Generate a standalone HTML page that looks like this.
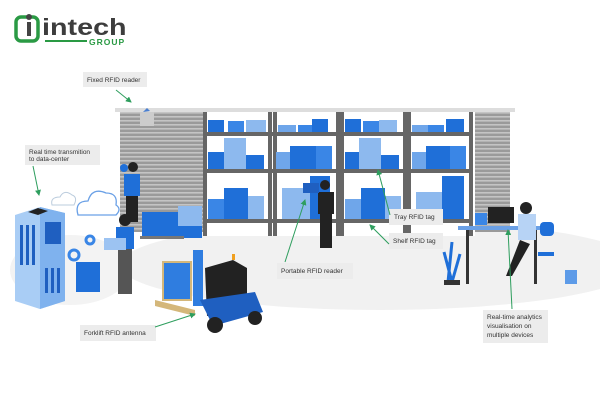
<!DOCTYPE html>
<html><head><meta charset="utf-8"><style>
html,body{margin:0;padding:0;background:#fff;width:600px;height:400px;overflow:hidden}
svg text{font-family:"Liberation Sans",sans-serif;font-size:6.5px;fill:#333}
</style></head><body>
<svg width="600" height="400" viewBox="0 0 600 400" xmlns="http://www.w3.org/2000/svg">
<defs>
<pattern id="door" width="4" height="4" patternUnits="userSpaceOnUse"><rect width="4" height="4" fill="#9a9a9a"/><rect width="4" height="1.6" fill="#c4c4c4"/></pattern>
<marker id="ar" markerWidth="6" markerHeight="6" refX="5" refY="3" orient="auto"><path d="M0,0 L6,3 L0,6 z" fill="#2e9e5e"/></marker>
</defs>
<!-- logo -->
<rect x="16" y="17" width="22" height="24" rx="5" fill="none" stroke="#2a9a44" stroke-width="3.5"/>
<circle cx="29" cy="17" r="3" fill="#444"/>
<rect x="27" y="22" width="4" height="14" fill="#444"/>
<text x="42" y="35" transform="translate(42 0) scale(1.25 1) translate(-42 0)" style="font-size:23px;font-weight:bold;fill:#3d3d3d;font-family:'Liberation Sans',sans-serif">intech</text>
<rect x="45" y="40" width="42" height="2" fill="#2a9a44"/>
<text x="89" y="45" style="font-size:8.5px;font-weight:bold;fill:#2a9a44;letter-spacing:1px">GROUP</text>
<!-- floor -->
<ellipse cx="380" cy="265" rx="260" ry="45" fill="#f1f1f1"/>
<ellipse cx="70" cy="270" rx="60" ry="35" fill="#f3f3f3"/>
<!-- door -->
<rect x="120" y="110" width="390" height="122" fill="url(#door)"/>
<rect x="115" y="108" width="400" height="4" fill="#ddd"/>
<!-- shelving -->
<g>
<rect x="203" y="112" width="272" height="124" fill="#fff"/>
<g fill="#666">
<rect x="203" y="112" width="4" height="124"/><rect x="268" y="112" width="4" height="124"/>
<rect x="273" y="112" width="4" height="124"/><rect x="336" y="112" width="4" height="124"/>
<rect x="340" y="112" width="4" height="124"/><rect x="403" y="112" width="4" height="124"/>
<rect x="407" y="112" width="4" height="124"/><rect x="469" y="112" width="4" height="124"/>
<rect x="203" y="132" width="270" height="4"/><rect x="203" y="169" width="270" height="4"/><rect x="203" y="219" width="270" height="4"/>
</g>
<g fill="#1f6fd8">
<rect x="208" y="120" width="16" height="12"/><rect x="228" y="121" width="16" height="11" fill="#3a86e6"/><rect x="246" y="120" width="20" height="12" fill="#8db9ee"/>
<rect x="278" y="125" width="18" height="7" fill="#6fa6ea"/><rect x="298" y="125" width="18" height="7" fill="#3a86e6"/><rect x="312" y="119" width="16" height="13"/>
<rect x="345" y="119" width="16" height="13"/><rect x="363" y="121" width="16" height="11" fill="#3a86e6"/><rect x="379" y="120" width="18" height="12" fill="#8db9ee"/>
<rect x="412" y="125" width="16" height="7" fill="#6fa6ea"/><rect x="428" y="125" width="16" height="7" fill="#3a86e6"/><rect x="446" y="119" width="18" height="13"/>
<rect x="208" y="152" width="16" height="17"/><rect x="224" y="138" width="22" height="31" fill="#8db9ee"/><rect x="246" y="155" width="18" height="14"/>
<rect x="276" y="152" width="18" height="17" fill="#6fa6ea"/><rect x="290" y="146" width="26" height="23"/><rect x="316" y="146" width="16" height="23" fill="#3a86e6"/>
<rect x="345" y="152" width="16" height="17"/><rect x="359" y="138" width="22" height="31" fill="#8db9ee"/><rect x="381" y="155" width="18" height="14"/>
<rect x="412" y="152" width="16" height="17" fill="#6fa6ea"/><rect x="426" y="146" width="26" height="23"/><rect x="450" y="146" width="16" height="23" fill="#3a86e6"/>
<rect x="208" y="199" width="16" height="20" fill="#3a86e6"/><rect x="224" y="188" width="24" height="31"/><rect x="248" y="196" width="16" height="23" fill="#8db9ee"/>
<rect x="282" y="188" width="34" height="31" fill="#8db9ee"/><rect x="310" y="176" width="20" height="43"/>
<rect x="345" y="199" width="16" height="20" fill="#6fa6ea"/><rect x="361" y="188" width="24" height="31"/><rect x="385" y="196" width="16" height="23" fill="#8db9ee"/>
<rect x="416" y="192" width="26" height="27" fill="#8db9ee"/><rect x="442" y="176" width="22" height="43"/>
</g>
</g>
<!-- fixed reader -->
<rect x="140" y="112" width="14" height="14" fill="#ccc"/><path d="M143 112 l4 -4 l3 3z" fill="#4a7fd0"/>
<!-- worker with trolley -->
<circle cx="133" cy="167" r="5" fill="#222"/><rect x="124" y="174" width="16" height="22" fill="#1f6fd8"/><rect x="126" y="196" width="12" height="26" fill="#222"/>
<circle cx="124" cy="168" r="4" fill="#1f6fd8"/>
<rect x="142" y="212" width="60" height="26" fill="#1f6fd8"/><rect x="178" y="206" width="24" height="20" fill="#8db9ee"/>
<rect x="140" y="236" width="44" height="3" fill="#777"/>
<!-- cloud -->
<path d="M78 215 q-4 -14 10 -14 q4 -14 18 -8 q12 0 10 12 q6 4 0 10z" fill="#fff" stroke="#6aa0e6" stroke-width="1.3"/>
<path d="M52 205 q-2 -8 8 -8 q4 -8 12 -2 q6 2 2 10z" fill="#fff" stroke="#bcd" stroke-width="1"/>
<!-- server -->
<path d="M15 215 l25 -8 l25 6 l0 88 l-25 8 l-25 -8z" fill="#a9cdf5"/>
<path d="M40 207 l25 6 l0 88 l-25 8z" fill="#7fb2ee"/>
<g fill="#1f5fc0"><rect x="20" y="225" width="3" height="40"/><rect x="26" y="225" width="3" height="40"/><rect x="32" y="225" width="3" height="40"/><rect x="45" y="222" width="16" height="22"/><rect x="45" y="268" width="3" height="25"/><rect x="51" y="268" width="3" height="25"/><rect x="57" y="268" width="3" height="25"/></g>
<path d="M28 212 l10 -4 l10 3 l-10 4z" fill="#222"/>
<!-- gears & folder -->
<circle cx="74" cy="255" r="5" fill="none" stroke="#3a86e6" stroke-width="3"/><circle cx="90" cy="240" r="4" fill="none" stroke="#3a86e6" stroke-width="3"/>
<rect x="76" y="262" width="24" height="30" fill="#1f6fd8"/>
<!-- man w/ laptop -->
<circle cx="125" cy="220" r="6" fill="#222"/><rect x="116" y="227" width="18" height="22" fill="#1f6fd8"/><rect x="118" y="249" width="14" height="45" fill="#555"/>
<rect x="104" y="238" width="22" height="12" fill="#9cc3f2"/>
<!-- forklift -->
<path d="M155 300 l40 10 l0 6 l-40 -10z" fill="#d4b77a"/>
<rect x="163" y="262" width="28" height="38" fill="#2f7de0" stroke="#d4b77a" stroke-width="2"/>
<rect x="193" y="250" width="10" height="56" fill="#2f7de0"/>
<path d="M205 268 l28 -8 l14 8 l0 40 l-40 8z" fill="#222"/>
<path d="M200 300 l55 -8 l8 20 l-50 14z" fill="#1f5fc0"/>
<circle cx="215" cy="325" r="8" fill="#222"/><circle cx="255" cy="318" r="7" fill="#222"/>
<rect x="232" y="254" width="3" height="6" fill="#f0a020"/>
<!-- portable reader person -->
<circle cx="325" cy="185" r="5" fill="#222"/><rect x="318" y="192" width="16" height="22" fill="#222"/><rect x="320" y="214" width="12" height="34" fill="#222"/>
<rect x="303" y="183" width="16" height="10" fill="#1f5fc0"/>
<!-- desk -->
<rect x="458" y="226" width="86" height="4" fill="#6aa0e6"/>
<rect x="466" y="230" width="3" height="54" fill="#333"/><rect x="534" y="230" width="3" height="54" fill="#333"/>
<rect x="488" y="207" width="26" height="16" fill="#222"/><rect x="475" y="213" width="12" height="12" fill="#3a86e6"/>
<circle cx="526" cy="208" r="6" fill="#222"/><rect x="518" y="214" width="18" height="26" fill="#b7d3f5"/>
<path d="M520 240 l-14 36 l6 0 l18 -32z" fill="#222"/>
<rect x="540" y="222" width="14" height="14" rx="4" fill="#1f6fd8"/><rect x="538" y="252" width="16" height="4" fill="#1f6fd8"/>
<rect x="565" y="270" width="12" height="14" fill="#5d9be8"/>
<path d="M448 282 l4 -40 m0 40 l-8 -30 m8 30 l8 -28" stroke="#1f6fd8" stroke-width="3" fill="none"/>
<rect x="444" y="280" width="16" height="5" fill="#333"/>
<!-- labels -->
<g fill="#ececec">
<rect x="83" y="72" width="64" height="15"/><rect x="25" y="145" width="75" height="20"/>
<rect x="277" y="263" width="76" height="16"/><rect x="389" y="209" width="54" height="16"/>
<rect x="389" y="233" width="54" height="16"/><rect x="80" y="325" width="76" height="16"/>
<rect x="483" y="310" width="65" height="33"/>
</g>
<text x="87" y="82">Fixed RFID reader</text>
<text x="29" y="154">Real time transmition</text><text x="29" y="161">to data-center</text>
<text x="281" y="273">Portable RFID reader</text>
<text x="394" y="219">Tray RFID tag</text><text x="393" y="243">Shelf RFID tag</text>
<text x="84" y="335">Forklift RFID antenna</text>
<text x="487" y="319">Real-time analytics</text><text x="487" y="328">visualisation on</text><text x="487" y="337">multiple devices</text>
<!-- arrows -->
<g stroke="#2e9e5e" stroke-width="1" fill="none" marker-end="url(#ar)">
<line x1="116" y1="90" x2="131" y2="102"/>
<line x1="33" y1="166" x2="39" y2="195"/>
<line x1="285" y1="262" x2="305" y2="200"/>
<line x1="390" y1="215" x2="378" y2="170"/>
<line x1="389" y1="244" x2="370" y2="225"/>
<line x1="155" y1="327" x2="195" y2="314"/>
<line x1="512" y1="309" x2="508" y2="230"/>
</g>
</svg>
</body></html>
